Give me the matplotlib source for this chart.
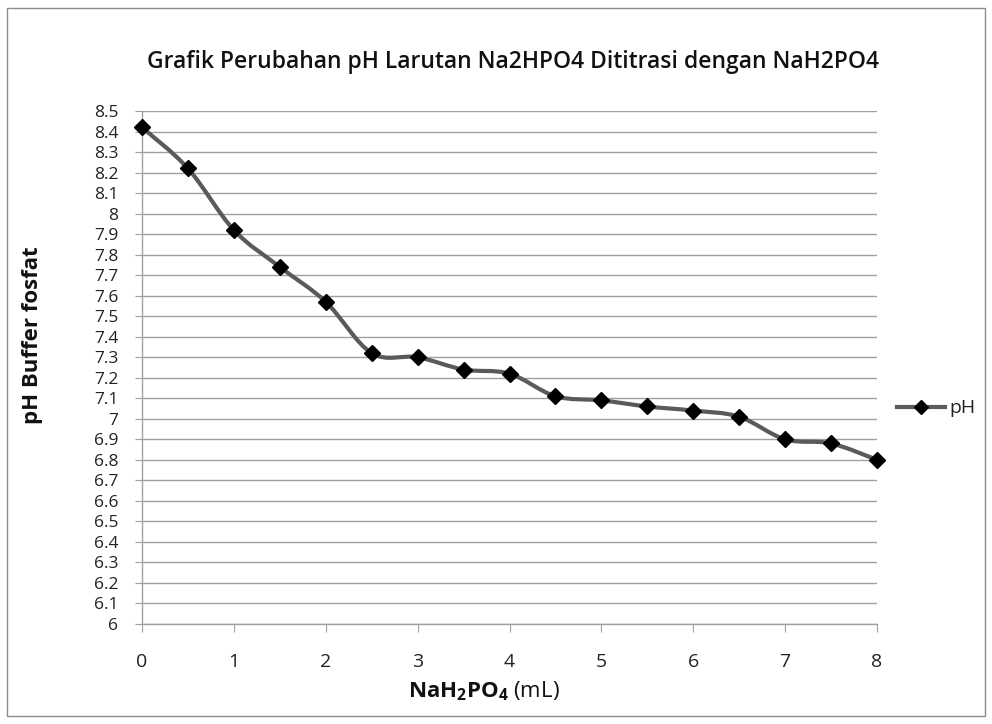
import numpy as np
import matplotlib
matplotlib.use("Agg")
import matplotlib.pyplot as plt
from matplotlib.path import Path
from matplotlib.patches import PathPatch, Rectangle
from matplotlib.lines import Line2D

plt.rcParams['font.family'] = ['Open Sans', 'DejaVu Sans']
plt.rcParams['mathtext.fontset'] = 'custom'
plt.rcParams['mathtext.rm'] = 'Open Sans'
plt.rcParams['mathtext.bf'] = 'Open Sans:bold'

volume_ml = [0, 0.5, 1, 1.5, 2, 2.5, 3, 3.5, 4, 4.5, 5, 5.5, 6, 6.5, 7, 7.5, 8]
ph_values = [8.42, 8.22, 7.92, 7.74, 7.57, 7.32, 7.30, 7.24, 7.22, 7.11, 7.09,
             7.06, 7.04, 7.01, 6.90, 6.88, 6.80]
x_ticks = [0, 1, 2, 3, 4, 5, 6, 7, 8]
y_ticks = [round(6 + 0.1 * i, 1) for i in range(26)]
y_ticklabels = [("%g" % v) for v in y_ticks]

title = "Grafik Perubahan pH Larutan Na2HPO4 Dititrasi dengan NaH2PO4"

fig = plt.figure(figsize=(9.92, 7.24), dpi=100)
fig.patches.append(Rectangle((7 / 992, 8 / 724), 978 / 992, 708 / 724,
                             transform=fig.transFigure, fill=False,
                             edgecolor='#8c8c8c', linewidth=1.0))

ax = fig.add_axes([142 / 992, 1 - 624 / 724, (877 - 142) / 992, (624 - 111) / 724])
ax.set_xlim(0, 8)
ax.set_ylim(6, 8.5)

# smoothed line (Catmull-Rom style Bezier through the data points)
x = np.array(volume_ml, dtype=float)
y = np.array(ph_values, dtype=float)
t = 1.0 / 6.0
verts = [(x[0], y[0])]
codes = [Path.MOVETO]
n = len(x)
for i in range(n - 1):
    p0 = (x[i - 1], y[i - 1]) if i > 0 else (x[i], y[i])
    p1 = (x[i], y[i])
    p2 = (x[i + 1], y[i + 1])
    p3 = (x[i + 2], y[i + 2]) if i + 2 < n else (x[i + 1], y[i + 1])
    c1 = (p1[0] + (p2[0] - p0[0]) * t, p1[1] + (p2[1] - p0[1]) * t)
    c2 = (p2[0] - (p3[0] - p1[0]) * t, p2[1] - (p3[1] - p1[1]) * t)
    verts += [c1, c2, p2]
    codes += [Path.CURVE4] * 3
patch = PathPatch(Path(verts, codes), facecolor='none', edgecolor='#5a5a5a',
                  linewidth=3.0, zorder=3, capstyle='round', joinstyle='round',
                  clip_on=False)
ax.add_patch(patch)
ax.plot(volume_ml, ph_values, linestyle='none', marker='D', markersize=8.5,
        color='black', zorder=4, clip_on=False)

ax.set_xticks(x_ticks)
ax.set_yticks(y_ticks)
ax.set_yticklabels(y_ticklabels)
ax.grid(axis='y', color='#a0a0a0', linewidth=1.0)
ax.set_axisbelow(True)
for s in ['top', 'right']:
    ax.spines[s].set_visible(False)
for s in ['left', 'bottom']:
    ax.spines[s].set_color('#a0a0a0')
    ax.spines[s].set_linewidth(1.0)
ax.tick_params(axis='x', direction='out', length=6, color='#a0a0a0',
               labelsize=14, pad=15, labelcolor='#222222')
ax.tick_params(axis='y', direction='out', length=5, color='#a0a0a0',
               labelsize=12.5, pad=12, labelcolor='#222222')

fig.text(513 / 992, 1 - 62 / 724, title, ha='center', va='center',
         fontsize=16.5, fontweight='semibold', color='#111111')
fig.text(33 / 992, 1 - 335 / 724, "pH Buffer fosfat", rotation=90,
         ha='center', va='center', fontsize=16, fontweight='bold', color='#111111')
fig.text(484 / 992, 1 - 691 / 724, r"$\mathbf{NaH_2PO_4}$" + " (mL)",
         ha='center', va='center', fontsize=16, color='#111111')

leg_line = Line2D([897 / 992, 945 / 992], [1 - 407 / 724, 1 - 407 / 724],
                  transform=fig.transFigure, color='#5a5a5a', linewidth=3.0)
fig.lines.append(leg_line)
fig.lines.append(Line2D([921 / 992], [1 - 407 / 724], transform=fig.transFigure,
                        marker='D', markersize=7, color='black', linestyle='none'))
fig.text(949 / 992, 1 - 408 / 724, "pH", ha='left', va='center', fontsize=14,
         color='#222222')

fig.savefig("out.png", dpi=100)
